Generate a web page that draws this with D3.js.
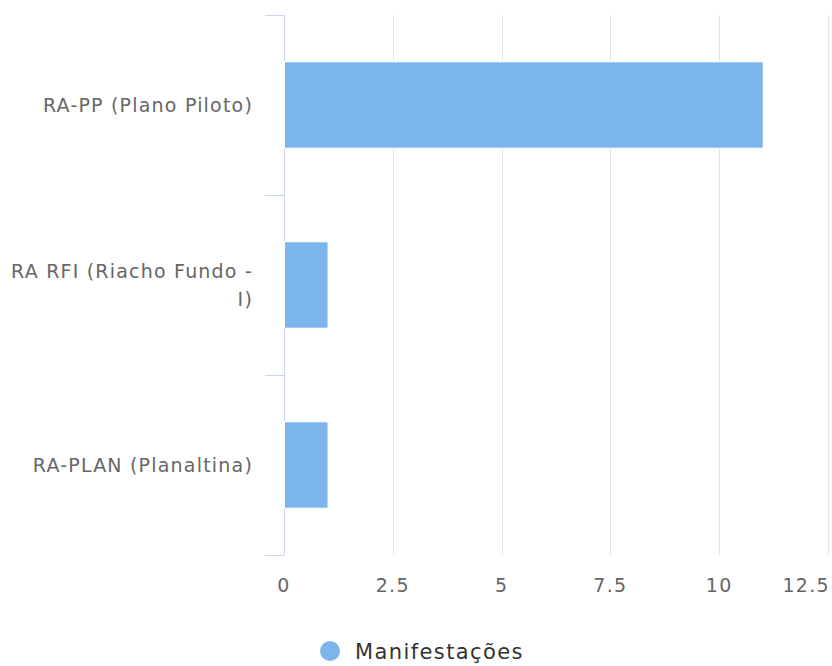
<!DOCTYPE html>
<html lang="en">
<head>
    <meta charset="UTF-8">
    <title>Manifestações por RA</title>
    <script src="https://d3js.org/d3.v7.min.js"></script>
    <style>
        body { margin: 0; background: #fff; }
    </style>
</head>
<body>
    <script>
        // Data
        const categories = [["RA-PP (Plano Piloto)"], ["RA RFI (Riacho Fundo -", "I)"], ["RA-PLAN (Planaltina)"]];
        const values = [11, 1, 1];
        const tickValues = [0, 2.5, 5, 7.5, 10, 12.5];
        const seriesName = "Manifestações";

        const width = 832, height = 666;
        const margin = { top: 15, right: 4, bottom: 111, left: 284 };
        const font = "'DejaVu Sans', Verdana, sans-serif";

        const svg = d3.select("body")
            .append("svg")
            .attr("width", width)
            .attr("height", height)
            .attr("font-family", font);

        const x = d3.scaleLinear()
            .domain([0, 12.5])
            .range([margin.left, width - margin.right]);

        const y = d3.scaleBand()
            .domain(d3.range(categories.length))
            .range([margin.top, height - margin.bottom])
            .paddingInner(0.52)
            .paddingOuter(0.26);

        const y0 = margin.top, y1 = height - margin.bottom;
        const step = (y1 - y0) / categories.length;

        // Grid lines
        svg.selectAll("line.grid")
            .data(tickValues.slice(1))
            .enter()
            .append("line")
            .attr("x1", d => Math.round(x(d)) + 0.5)
            .attr("x2", d => Math.round(x(d)) + 0.5)
            .attr("y1", y0)
            .attr("y2", y1)
            .attr("stroke", "#e6e6e6")
            .attr("stroke-width", 1);

        // Category axis line and ticks
        svg.append("line")
            .attr("x1", margin.left + 0.5)
            .attr("x2", margin.left + 0.5)
            .attr("y1", y0)
            .attr("y2", y1)
            .attr("stroke", "#ccd6eb");

        svg.selectAll("line.ytick")
            .data(d3.range(categories.length + 1))
            .enter()
            .append("line")
            .attr("x1", margin.left - 19)
            .attr("x2", margin.left)
            .attr("y1", d => Math.round(y0 + d * step) + 0.5)
            .attr("y2", d => Math.round(y0 + d * step) + 0.5)
            .attr("stroke", "#ccd6eb");

        // Bars
        svg.selectAll("rect.bar")
            .data(values)
            .enter()
            .append("rect")
            .attr("x", x(0) + 0.5)
            .attr("y", (d, i) => y(i))
            .attr("width", d => x(d) - x(0))
            .attr("height", y.bandwidth())
            .attr("fill", "#7cb5ec")
            .attr("stroke", "#ffffff")
            .attr("stroke-width", 1);

        // Category labels
        const labels = svg.selectAll("text.cat")
            .data(categories)
            .enter()
            .append("text")
            .attr("text-anchor", "end")
            .attr("fill", "#666666")
            .attr("font-size", "19px")
            .attr("letter-spacing", "1.2px")
            .attr("transform", (d, i) => `translate(253, ${y(i) + y.bandwidth() / 2})`);

        labels.selectAll("tspan")
            .data(d => d.map((t, j) => ({ t, j, n: d.length })))
            .enter()
            .append("tspan")
            .attr("x", 0)
            .attr("y", d => (d.j - (d.n - 1) / 2) * 28 + 7)
            .text(d => d.t);

        // Value axis labels
        svg.selectAll("text.xtick")
            .data(tickValues)
            .enter()
            .append("text")
            .attr("x", (d, i) => i === tickValues.length - 1 ? width - 2 : x(d))
            .attr("y", 592)
            .attr("text-anchor", (d, i) => i === tickValues.length - 1 ? "end" : "middle")
            .attr("fill", "#666666")
            .attr("font-size", "19px")
            .attr("letter-spacing", "1.3px")
            .text(d => d);

        // Legend
        svg.append("circle")
            .attr("cx", 330)
            .attr("cy", 651)
            .attr("r", 10)
            .attr("fill", "#7cb5ec");

        svg.append("text")
            .attr("x", 355)
            .attr("y", 659)
            .attr("fill", "#333333")
            .attr("font-size", "21px")
            .attr("letter-spacing", "1.4px")
            .text(seriesName);
    </script>
</body>
</html>
